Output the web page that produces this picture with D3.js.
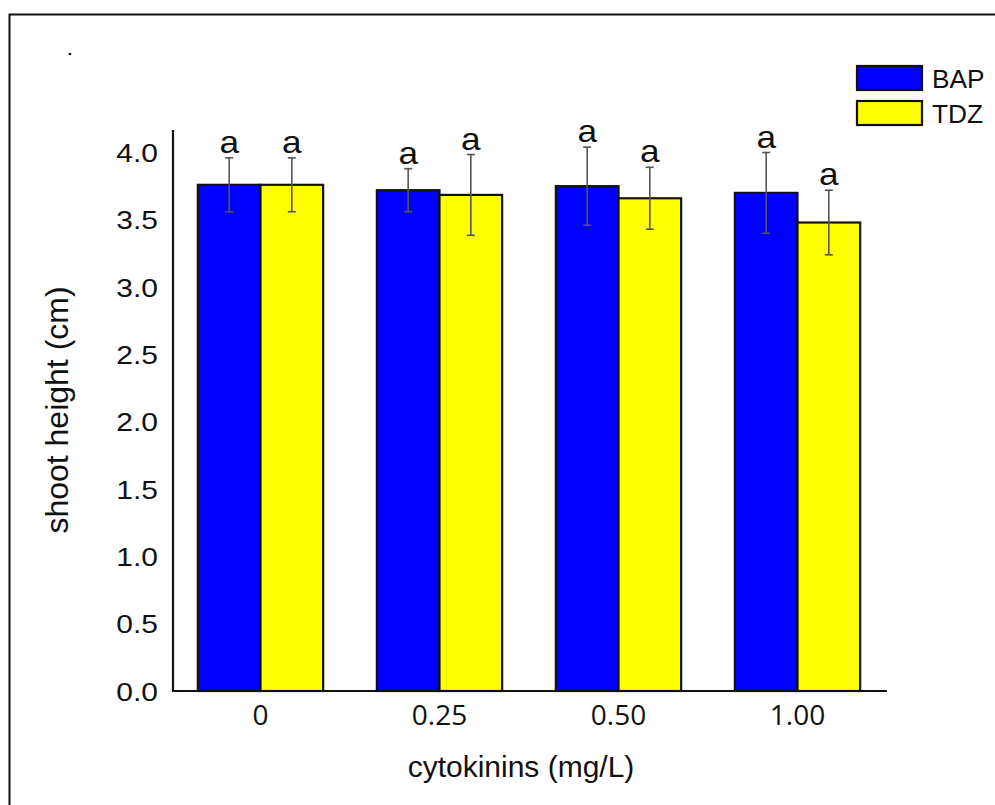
<!DOCTYPE html>
<html>
<head>
    <script src="https://d3js.org/d3.v7.min.js"></script>
    <style>
        body { margin: 0; background: #fff; }
        svg text { font-family: "Liberation Sans", Arial, sans-serif; fill: #111; }
    </style>
</head>
<body>
    <div id="my_dataviz"></div>
    <script>
        // data
        var doses = ["0", "0.25", "0.50", "1.00"];
        var series = ["BAP", "TDZ"];
        var colors = ["#0000ff", "#ffff00"];
        var bapMean = [3.76, 3.72, 3.75, 3.70];
        var bapErr = [0.20, 0.16, 0.29, 0.30];
        var tdzMean = [3.76, 3.685, 3.66, 3.48];
        var tdzErr = [0.20, 0.30, 0.23, 0.24];
        var letters = [["a", "a"], ["a", "a"], ["a", "a"], ["a", "a"]];
        var yTicks = [0, 0.5, 1, 1.5, 2, 2.5, 3, 3.5, 4];

        var W = 995, H = 805;
        var plotL = 173, plotR = 887, plotT = 130, plotB = 691;

        var svg = d3.select("#my_dataviz").append("svg")
            .attr("width", W).attr("height", H);

        // outer frame (only top & left edges are in the picture)
        svg.append("path")
            .attr("d", "M9.5," + H + "V14.5H" + W)
            .attr("fill", "none").attr("stroke", "#111").attr("stroke-width", 2);
        svg.append("circle").attr("cx", 70).attr("cy", 54).attr("r", 1.3).attr("fill", "#111");

        var y = d3.scaleLinear().domain([0, 4]).range([plotB, 152.5]);
        var x0 = d3.scaleBand().domain(doses).range([171, 887]).paddingInner(0.3).paddingOuter(0.15);
        var x1 = d3.scaleBand().domain(series).range([0, x0.bandwidth()]);

        // text in the picture is a bit wider than the font, so stretch it
        function wideText(sel, x, y, sx, size, anchor, str) {
            return sel.append("text")
                .attr("transform", "translate(" + x + "," + y + ") scale(" + sx + ",1)")
                .attr("text-anchor", anchor)
                .style("font-size", size + "px")
                .text(str);
        }

        var rows = doses.map(function (d, i) {
            return [
                { dose: d, s: "BAP", v: bapMean[i], e: bapErr[i], l: letters[i][0] },
                { dose: d, s: "TDZ", v: tdzMean[i], e: tdzErr[i], l: letters[i][1] }
            ];
        });

        // bars
        var g = svg.selectAll("g.grp").data(rows).enter().append("g")
            .attr("transform", function (d) { return "translate(" + x0(d[0].dose) + ",0)"; });
        g.selectAll("rect").data(function (d) { return d; }).enter().append("rect")
            .attr("x", function (d) { return x1(d.s); })
            .attr("y", function (d) { return y(d.v); })
            .attr("width", x1.bandwidth())
            .attr("height", function (d) { return y(0) - y(d.v); })
            .attr("fill", function (d) { return colors[series.indexOf(d.s)]; })
            .attr("stroke", "#111").attr("stroke-width", 2.2);

        // error bars
        var eb = g.selectAll("g.err").data(function (d) { return d; }).enter().append("g")
            .attr("stroke", "#555").attr("stroke-width", 1.6);
        var cx = function (d) { return x1(d.s) + x1.bandwidth() / 2; };
        eb.append("line")
            .attr("x1", cx).attr("x2", cx)
            .attr("y1", function (d) { return y(d.v + d.e); })
            .attr("y2", function (d) { return y(d.v - d.e); });
        eb.append("line")
            .attr("x1", function (d) { return cx(d) - 4; }).attr("x2", function (d) { return cx(d) + 4; })
            .attr("y1", function (d) { return y(d.v + d.e); }).attr("y2", function (d) { return y(d.v + d.e); });
        eb.append("line")
            .attr("x1", function (d) { return cx(d) - 4; }).attr("x2", function (d) { return cx(d) + 4; })
            .attr("y1", function (d) { return y(d.v - d.e); }).attr("y2", function (d) { return y(d.v - d.e); });

        // significance letters
        g.each(function (grp) {
            var gg = d3.select(this);
            grp.forEach(function (d) {
                wideText(gg, cx(d), y(d.v + d.e) - 5, 1.1, 32, "middle", d.l);
            });
        });

        // y axis
        var yAxis = svg.append("g")
            .attr("transform", "translate(" + plotL + ",0)")
            .call(d3.axisLeft(y).tickValues(yTicks).tickSize(0).tickPadding(15)
                .tickFormat(d3.format(".1f")));
        yAxis.select(".domain").attr("d", "M0," + plotT + "V" + plotB)
            .attr("stroke", "#111").attr("stroke-width", 2.2);
        yAxis.selectAll(".tick text").remove();
        yAxis.selectAll(".tick").each(function (d) {
            wideText(d3.select(this), -15, 9, 1.2, 25, "end", d3.format(".1f")(d))
                .attr("fill", "#222");
        });

        // x axis
        var xAxis = svg.append("g")
            .attr("transform", "translate(0," + plotB + ")")
            .call(d3.axisBottom(x0).tickSize(0));
        xAxis.select(".domain").attr("d", "M" + (plotL - 1) + ",0H" + plotR)
            .attr("stroke", "#111").attr("stroke-width", 2.2);
        xAxis.selectAll(".tick text")
            .attr("y", 34).attr("dy", null)
            .style("font-size", "28px")
            .style("font-family", "'Open Sans', sans-serif").attr("fill", "#222");

        // axis titles
        svg.append("text")
            .attr("transform", "translate(68," + 410 + ") rotate(-90)")
            .attr("text-anchor", "middle")
            .style("font-size", "32px")
            .text("shoot height (cm)");
        svg.append("text")
            .attr("x", 521).attr("y", 777)
            .attr("text-anchor", "middle")
            .style("font-size", "30px")
            .text("cytokinins (mg/L)");

        // legend
        var lg = svg.selectAll("g.leg").data(series).enter().append("g")
            .attr("transform", function (d, i) { return "translate(857," + (66 + i * 35) + ")"; });
        lg.append("rect")
            .attr("width", 65).attr("height", 24)
            .attr("fill", function (d, i) { return colors[i]; })
            .attr("stroke", "#111").attr("stroke-width", 2.2);
        lg.each(function (d) {
            wideText(d3.select(this), 75, 22, 1.05, 25, "start", d);
        });
    </script>
</body>
</html>
